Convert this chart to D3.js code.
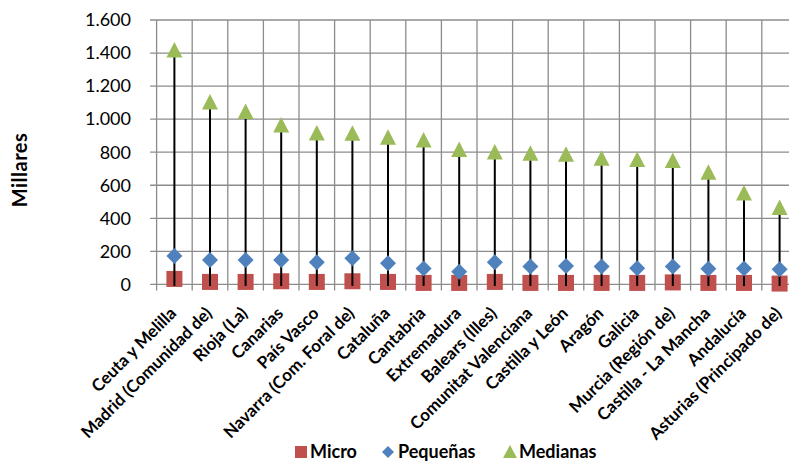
<!DOCTYPE html>
<html><head><meta charset="utf-8">
<script src="https://cdn.jsdelivr.net/npm/d3@7"></script>
<style>body{margin:0;background:#fff}svg{display:block}text{font-family:Lato,"Open Sans",sans-serif}</style>
</head><body><svg id="c" width="789" height="461"></svg>
<script>
const categories = ["Ceuta y Melilla","Madrid (Comunidad de)","Rioja (La)","Canarias","País Vasco","Navarra (Com. Foral de)","Cataluña","Cantabria","Extremadura","Balears (Illes)","Comunitat Valenciana","Castilla y León","Aragón","Galicia","Murcia (Región de)","Castilla - La Mancha","Andalucía","Asturias (Principado de)"];
const micro    = [33, 15, 15, 19, 15, 19, 15, 9, 9, 15, 9, 9, 9, 9, 12, 9, 9, 5];
const pequenas = [172, 148, 148, 148, 134, 158, 128, 96, 77, 134, 108, 112, 108, 98, 108, 94, 96, 92];
const medianas = [1418, 1104, 1047, 965, 916, 915, 890, 874, 817, 801, 794, 788, 764, 756, 750, 679, 553, 466];
const yTicks = [0, 200, 400, 600, 800, 1000, 1200, 1400, 1600];
const seriesNames = ["Micro", "Pequeñas", "Medianas"];
const yTitle = "Millares";

const svg = d3.select("#c");
const pLeft = 156.6, band = 35.6, pTop = 20, pBottom = 284.4;
const x = d3.scaleBand().domain(categories).range([pLeft, pLeft + band * categories.length]);
const y = d3.scaleLinear().domain([0, 1600]).range([pBottom, pTop]);
const fmt = d3.formatLocale({decimal: ",", thousands: ".", grouping: [3], currency: ["", "€"]}).format(",d");
const grid = "#8c8c8c";

svg.append("g").selectAll("line").data(yTicks).join("line")
  .attr("x1", pLeft - 6.5).attr("x2", 789).attr("y1", d => y(d)).attr("y2", d => y(d))
  .attr("stroke", grid).attr("stroke-width", 1.3);
svg.append("g").selectAll("line").data(categories).join("line")
  .attr("x1", d => x(d)).attr("x2", d => x(d)).attr("y1", pTop).attr("y2", pBottom + 6)
  .attr("stroke", grid).attr("stroke-width", 1.3);

svg.append("g").selectAll("text").data(yTicks).join("text")
  .attr("x", 131).attr("y", d => y(d)).attr("dy", "0.35em").attr("text-anchor", "end")
  .attr("font-size", 18).attr("fill", "#000").text(d => fmt(d));

svg.append("text").attr("transform", "translate(27,170) rotate(-90)").attr("text-anchor", "middle")
  .attr("font-size", 20).attr("letter-spacing", 0.5).attr("font-weight", "bold").text(yTitle);

svg.append("g").selectAll("text").data(categories).join("text")
  .attr("transform", d => `translate(${x(d) + band/2 + 3},${pBottom + 30}) rotate(-45)`)
  .attr("text-anchor", "end").attr("font-size", 17).attr("font-weight", "bold").text(d => d);

const cx = i => x(categories[i]) + band / 2;
const sq = 16;
svg.append("g").selectAll("rect").data(micro).join("rect")
  .attr("x", (d, i) => cx(i) - sq/2).attr("y", d => y(d) - sq/2).attr("width", sq).attr("height", sq)
  .attr("fill", "#C0504D");
svg.append("g").selectAll("line").data(medianas).join("line")
  .attr("x1", (d, i) => cx(i)).attr("x2", (d, i) => cx(i)).attr("y1", y(0) + 1.5).attr("y2", d => y(d))
  .attr("stroke", "#000").attr("stroke-width", 2);
svg.append("g").selectAll("path").data(pequenas).join("path")
  .attr("d", (d, i) => `M${cx(i)},${y(d) - 8}L${cx(i) + 8},${y(d)}L${cx(i)},${y(d) + 8}L${cx(i) - 8},${y(d)}Z`)
  .attr("fill", "#4F81BD");
svg.append("g").selectAll("path").data(medianas).join("path")
  .attr("d", (d, i) => `M${cx(i)},${y(d) - 8}L${cx(i) + 8},${y(d) + 7.5}L${cx(i) - 8},${y(d) + 7.5}Z`)
  .attr("fill", "#9BBB59");

const lg = svg.append("g");
lg.append("rect").attr("x", 295).attr("y", 446).attr("width", 12).attr("height", 12).attr("fill", "#C0504D");
lg.append("text").attr("x", 310).attr("y", 458).attr("font-size", 18).attr("font-weight", "bold").text(seriesNames[0]);
lg.append("path").attr("d", "M388,446L394,452L388,458L382,452Z").attr("fill", "#4F81BD");
lg.append("text").attr("x", 398).attr("y", 458).attr("font-size", 18).attr("font-weight", "bold").text(seriesNames[1]);
lg.append("path").attr("d", "M510,445L517,458L503,458Z").attr("fill", "#9BBB59");
lg.append("text").attr("x", 519).attr("y", 458).attr("font-size", 18).attr("font-weight", "bold").text(seriesNames[2]);
</script></body></html>
